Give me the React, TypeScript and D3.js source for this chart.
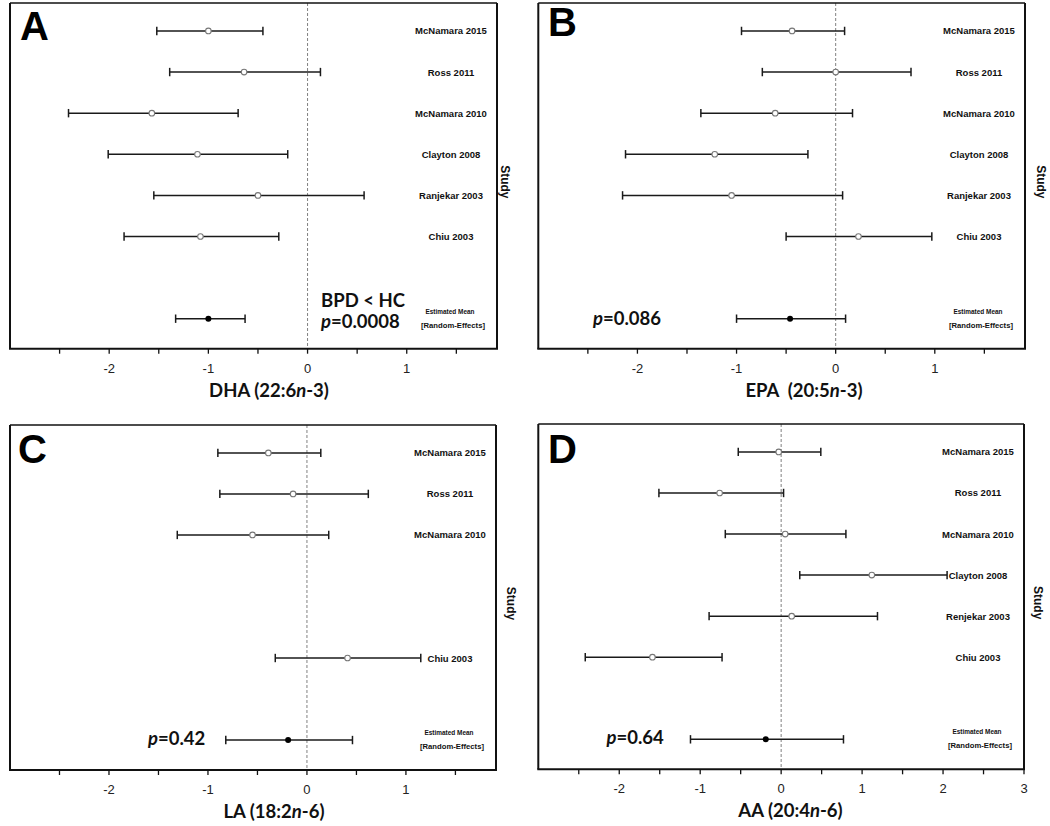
import React from "react";
import * as d3 from "d3";

// ---------- DATA ----------
const studiesA = ["McNamara 2015", "Ross 2011", "McNamara 2010", "Clayton 2008", "Ranjekar 2003", "Chiu 2003"];
const rowsA = [0, 1, 2, 3, 4, 5];
const dhaMean = [-1.0, -0.64, -1.57, -1.11, -0.5, -1.08];
const dhaLower = [-1.52, -1.39, -2.41, -2.01, -1.55, -1.85];
const dhaUpper = [-0.45, 0.13, -0.7, -0.2, 0.57, -0.29];
const dhaPooled = [-1.33, -1.0, -0.63]; // lower, mean, upper

const studiesB = ["McNamara 2015", "Ross 2011", "McNamara 2010", "Clayton 2008", "Ranjekar 2003", "Chiu 2003"];
const rowsB = [0, 1, 2, 3, 4, 5];
const epaMean = [-0.44, 0.0, -0.61, -1.22, -1.05, 0.23];
const epaLower = [-0.95, -0.74, -1.36, -2.12, -2.15, -0.5];
const epaUpper = [0.09, 0.76, 0.17, -0.28, 0.07, 0.97];
const epaPooled = [-1.0, -0.46, 0.1];

const studiesC = ["McNamara 2015", "Ross 2011", "McNamara 2010", "Chiu 2003"];
const rowsC = [0, 1, 2, 5];
const laMean = [-0.39, -0.14, -0.55, 0.41];
const laLower = [-0.9, -0.88, -1.31, -0.32];
const laUpper = [0.14, 0.62, 0.22, 1.15];
const laPooled = [-0.82, -0.19, 0.46];

const studiesD = ["McNamara 2015", "Ross 2011", "McNamara 2010", "Clayton 2008", "Renjekar 2003", "Chiu 2003"];
const rowsD = [0, 1, 2, 3, 4, 5];
const aaMean = [-0.03, -0.76, 0.05, 1.12, 0.13, -1.59];
const aaLower = [-0.53, -1.51, -0.69, 0.23, -0.89, -2.42];
const aaUpper = [0.49, 0.03, 0.8, 2.05, 1.19, -0.73];
const aaPooled = [-1.12, -0.19, 0.77];

const pooledRow = 7;
const pooledLabel1 = "Estimated Mean";
const pooledLabel2 = "[Random-Effects]";

const ticksABC = [-2, -1, 0, 1];
const minorABC = [-2.5, -1.5, -0.5, 0.5, 1.5];
const ticksD = [-2, -1, 0, 1, 2, 3];
const minorD = [-2.5, -1.5, -0.5, 0.5, 1.5, 2.5];

const SANS = "'Liberation Sans', Arial, sans-serif";
const CAL = "Lato, 'Open Sans', sans-serif";

type PanelProps = {
  letter: string;
  letterPos: [number, number];
  frame: { x0: number; x1: number; y0: number; y1: number };
  xDomain: [number, number];
  ticks: number[];
  minor: number[];
  studies: string[];
  rows: number[];
  mean: number[];
  lower: number[];
  upper: number[];
  pooled: number[];
  titleParts: [string, string, string];
  titleX: number;
  studyX: number;
  annot: { x: number; lines: { y: number; parts: { t: string; italic?: boolean }[] }[] };
};

function Panel(p: PanelProps) {
  const { frame } = p;
  const x = d3.scaleLinear().domain(p.xDomain).range([frame.x0, frame.x1]);
  const y = d3.scaleLinear().domain([-0.68, 7.73]).range([frame.y0, frame.y1]);
  const capH = 4.2;
  const labelX = frame.x1 - 46;
  const line = (lo: number, hi: number, r: number, key: string) => (
    <g key={key} stroke="#1a1a1a" strokeWidth={1.5}>
      <line x1={x(lo)} x2={x(hi)} y1={y(r)} y2={y(r)} />
      <line x1={x(lo)} x2={x(lo)} y1={y(r) - capH} y2={y(r) + capH} />
      <line x1={x(hi)} x2={x(hi)} y1={y(r) - capH} y2={y(r) + capH} />
    </g>
  );
  return (
    <g>
      {/* zero line */}
      <line x1={x(0)} x2={x(0)} y1={frame.y0} y2={frame.y1} stroke="#808080" strokeWidth={1} strokeDasharray="3,2" />
      {/* studies */}
      {p.rows.map((r, i) => (
        <g key={"s" + i}>
          {line(p.lower[i], p.upper[i], r, "l" + i)}
          <circle cx={x(p.mean[i])} cy={y(r)} r={2.8} fill="#fff" stroke="#777" strokeWidth={1.1} />
          <text x={labelX} y={y(r) + 3.5} textAnchor="middle" fontFamily={SANS} fontWeight="bold" fontSize={9.5} fill="#111">
            {p.studies[i]}
          </text>
        </g>
      ))}
      {/* pooled */}
      {line(p.pooled[0], p.pooled[2], pooledRow, "pool")}
      <circle cx={x(p.pooled[1])} cy={y(pooledRow)} r={3} fill="#000" />
      <text x={labelX - 1} y={y(pooledRow) - 5} textAnchor="middle" fontFamily={SANS} fontWeight="bold" fontSize={7.2} fill="#111" textLength={49} lengthAdjust="spacingAndGlyphs">
        {pooledLabel1}
      </text>
      <text x={labelX + 2} y={y(pooledRow) + 9} textAnchor="middle" fontFamily={SANS} fontWeight="bold" fontSize={7.2} fill="#111" textLength={64} lengthAdjust="spacingAndGlyphs">
        {pooledLabel2}
      </text>
      {/* frame */}
      <g stroke="#111" fill="none">
        <line x1={frame.x0} x2={frame.x1} y1={frame.y0} y2={frame.y0} strokeWidth={1.3} />
        <line x1={frame.x0} x2={frame.x0} y1={frame.y0} y2={frame.y1} strokeWidth={2} />
        <line x1={frame.x1} x2={frame.x1} y1={frame.y0} y2={frame.y1} strokeWidth={2} />
        <line x1={frame.x0 - 1} x2={frame.x1 + 1} y1={frame.y1} y2={frame.y1} strokeWidth={2} />
      </g>
      {/* ticks */}
      {p.ticks.concat(p.minor).map((t, i) => (
        <line key={"t" + i} x1={x(t)} x2={x(t)} y1={frame.y1} y2={frame.y1 + 5} stroke="#111" strokeWidth={1.3} />
      ))}
      {p.ticks.map((t, i) => (
        <text key={"tl" + i} x={x(t)} y={frame.y1 + 24} textAnchor="middle" fontFamily={SANS} fontSize={13} fill="#222">
          {d3.format("d")(t).replace("−", "-")}
        </text>
      ))}
      {/* axis title */}
      <text x={p.titleX} y={frame.y1 + 48} textAnchor="middle" fontFamily={CAL} fontWeight="bold" fontSize={18.5} fill="#111" style={{ whiteSpace: "pre" }}>
        {p.titleParts[0]}
        <tspan fontStyle="italic">{p.titleParts[1]}</tspan>
        {p.titleParts[2]}
      </text>
      {/* study label */}
      <text transform={`translate(${p.studyX},${(frame.y0 + frame.y1) / 2 + 6}) rotate(90)`} textAnchor="middle" dy="0.35em" fontFamily={SANS} fontWeight="bold" fontSize={12} fill="#111">
        Study
      </text>
      {/* panel letter */}
      <text x={p.letterPos[0]} y={p.letterPos[1]} fontFamily={SANS} fontWeight="bold" fontSize={40} fill="#000">
        {p.letter}
      </text>
      {/* annotation */}
      {p.annot.lines.map((ln, i) => (
        <text key={"a" + i} x={p.annot.x} y={ln.y} fontFamily={CAL} fontWeight="bold" fontSize={18.5} fill="#111">
          {ln.parts.map((pt, j) => (
            <tspan key={j} fontStyle={pt.italic ? "italic" : "normal"}>{pt.t}</tspan>
          ))}
        </text>
      ))}
    </g>
  );
}

export default function App() {
  return (
    <svg width={1050} height={826} style={{ position: "absolute", left: 0, top: 0, background: "#fff" }}>
      <rect width={1050} height={826} fill="#fff" />
      <Panel
        letter="A"
        letterPos={[20, 39.5]}
        frame={{ x0: 10, x1: 497, y0: 3, y1: 348.7 }}
        xDomain={[-3, 1.91]}
        ticks={ticksABC}
        minor={minorABC}
        studies={studiesA}
        rows={rowsA}
        mean={dhaMean}
        lower={dhaLower}
        upper={dhaUpper}
        pooled={dhaPooled}
        titleParts={["DHA (22:6", "n", "-3)"]}
        titleX={269}
        studyX={505}
        annot={{ x: 321, lines: [{ y: 306.7, parts: [{ t: "BPD < HC" }] }, { y: 328, parts: [{ t: "p", italic: true }, { t: "=0.0008" }] }] }}
      />
      <Panel
        letter="B"
        letterPos={[548, 36]}
        frame={{ x0: 538.3, x1: 1025, y0: 3, y1: 348.7 }}
        xDomain={[-3, 1.91]}
        ticks={ticksABC}
        minor={minorABC}
        studies={studiesB}
        rows={rowsB}
        mean={epaMean}
        lower={epaLower}
        upper={epaUpper}
        pooled={epaPooled}
        titleParts={["EPA  (20:5", "n", "-3)"]}
        titleX={804}
        studyX={1041.7}
        annot={{ x: 593, lines: [{ y: 325, parts: [{ t: "p", italic: true }, { t: "=0.086" }] }] }}
      />
      <Panel
        letter="C"
        letterPos={[18, 463]}
        frame={{ x0: 10, x1: 496, y0: 425, y1: 770 }}
        xDomain={[-3, 1.91]}
        ticks={ticksABC}
        minor={minorABC}
        studies={studiesC}
        rows={rowsC}
        mean={laMean}
        lower={laLower}
        upper={laUpper}
        pooled={laPooled}
        titleParts={["LA (18:2", "n", "-6)"]}
        titleX={274}
        studyX={511}
        annot={{ x: 148, lines: [{ y: 745, parts: [{ t: "p", italic: true }, { t: "=0.42" }] }] }}
      />
      <Panel
        letter="D"
        letterPos={[548, 463]}
        frame={{ x0: 538.3, x1: 1024, y0: 424, y1: 769.3 }}
        xDomain={[-3, 3]}
        ticks={ticksD}
        minor={minorD}
        studies={studiesD}
        rows={rowsD}
        mean={aaMean}
        lower={aaLower}
        upper={aaUpper}
        pooled={aaPooled}
        titleParts={["AA (20:4", "n", "-6)"]}
        titleX={790.5}
        studyX={1038.3}
        annot={{ x: 606.5, lines: [{ y: 743.5, parts: [{ t: "p", italic: true }, { t: "=0.64" }] }] }}
      />
    </svg>
  );
}
